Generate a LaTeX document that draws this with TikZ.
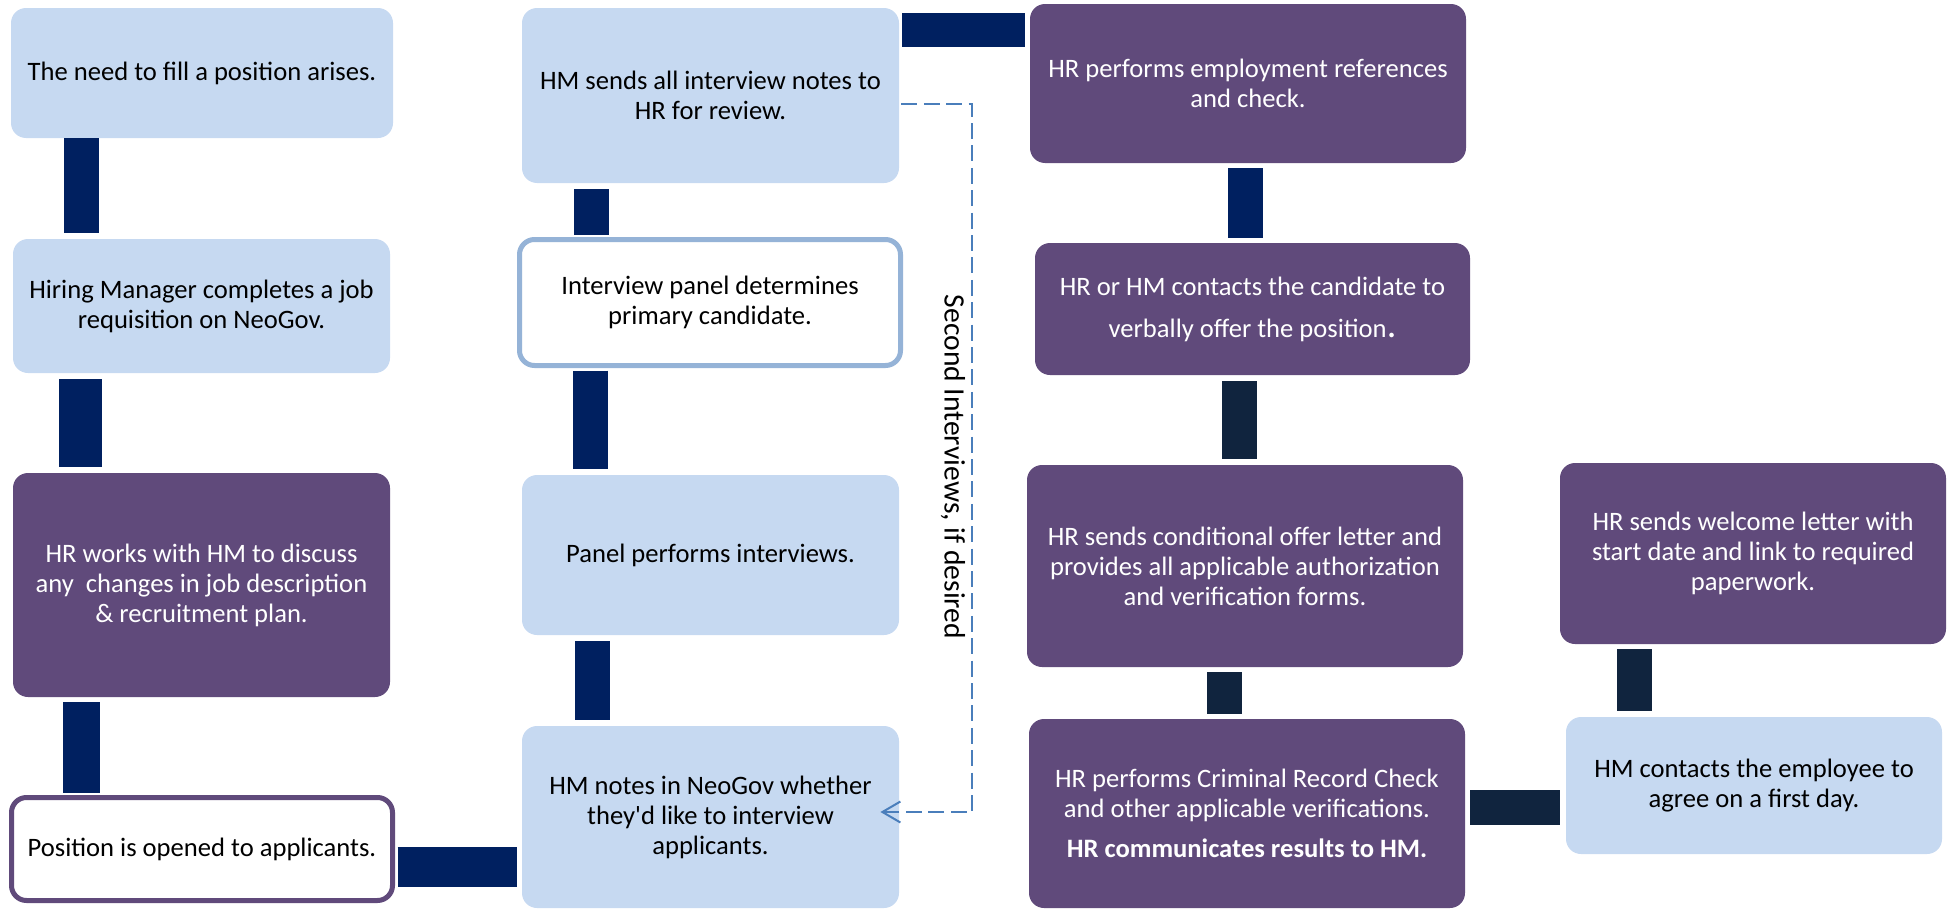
\documentclass[tikz,border=0pt]{standalone}
\usepackage{fontspec}
\setmainfont{Carlito}
\usetikzlibrary{arrows.meta}
\definecolor{boxblue}{HTML}{C6D9F1}
\definecolor{boxpurple}{HTML}{604A7B}
\definecolor{navy}{HTML}{002060}
\definecolor{darknavy}{HTML}{10243E}
\definecolor{panelblue}{HTML}{95B3D7}
\definecolor{dashblue}{HTML}{4A7EBB}
\begin{document}
\begin{tikzpicture}[x=0.5pt,y=-0.5pt,
  box/.style={rounded corners=7.5pt, align=center, inner sep=0pt, font=\fontsize{13.3}{15}\selectfont},
  lbox/.style={box, fill=boxblue, text=black},
  pbox/.style={box, fill=boxpurple, text=white},
  bar/.style={draw=navy, line width=17.5pt},
  bartwo/.style={draw=darknavy, line width=17.5pt},
  dashline/.style={draw=dashblue, line width=1pt, dash pattern=on 8pt off 3.2pt},
]
\useasboundingbox (0,0) rectangle (1954,910);

% column 1
\node[lbox, minimum width=191pt, minimum height=65pt] (b1) at (202,73) {The need to fill a position arises.};
\node[lbox, minimum width=188.5pt, minimum height=67pt] (b2) at (201.5,306) {Hiring Manager completes a job\\requisition on NeoGov.};
\node[pbox, minimum width=188.5pt, minimum height=112pt] (b3) at (201.5,585) {HR works with HM to discuss\\any\ \ changes in job description\\\& recruitment plan.};
\node[box, fill=white, draw=boxpurple, line width=2.5pt, minimum width=190.5pt, minimum height=51.5pt] (b4) at (202,849) {Position is opened to applicants.};

% column 2
\node[lbox, minimum width=188.5pt, minimum height=87.5pt] (c2a) at (710.5,95.5) {HM sends all interview notes to\\HR for review.};
\node[box, fill=white, draw=panelblue, line width=2.5pt, minimum width=190.5pt, minimum height=63pt] (c2b) at (710,302.5) {Interview panel determines\\primary candidate.};
\node[lbox, minimum width=188.5pt, minimum height=80pt] (c2c) at (710.5,555) {Panel performs interviews.};
\node[lbox, minimum width=188.5pt, minimum height=91pt] (c2d) at (710.5,817) {HM notes in NeoGov whether\\they\textquotesingle d like to interview\\applicants.};

% column 3
\node[pbox, minimum width=218pt, minimum height=79.5pt] (c3a) at (1248,83.5) {HR performs employment references\\and check.};
\node[pbox, minimum width=217.5pt, minimum height=66pt, font=\fontsize{13.3}{21}\selectfont] (c3b) at (1252.5,309) {HR or HM contacts the candidate to\\verbally offer the position{\fontsize{19}{21}\selectfont.}};
\node[pbox, minimum width=218pt, minimum height=101pt] (c3c) at (1245,566) {HR sends conditional offer letter and\\provides all applicable authorization\\and verification forms.};
\node[pbox, minimum width=218pt, minimum height=94.5pt] (c3d) at (1247,813.5) {HR performs Criminal Record Check\\and other applicable verifications.\\[5pt]\textbf{HR communicates results to HM.}};

% column 4
\node[pbox, minimum width=193pt, minimum height=90.5pt] (c4a) at (1753,553.5) {HR sends welcome letter with\\start date and link to required\\paperwork.};
\node[lbox, minimum width=188pt, minimum height=68.5pt] (c4b) at (1754,785.5) {HM contacts the employee to\\agree on a first day.};

% label
\node[rotate=-90, font=\fontsize{14.8}{16}\selectfont, inner sep=0pt] (lbl) at (953,467) {Second Interviews, if desired};

% bars
\draw[bar, shorten >=3pt] (b1.south -| 81.5,0) -- (b2.north -| 81.5,0);
\draw[bar, line width=21.5pt, shorten <=3pt, shorten >=3pt] (b2.south -| 80.5,0) -- (b3.north -| 80.5,0);
\draw[bar, line width=18.5pt, shorten <=2.5pt, shorten >=1.25pt] (b3.south -| 81,0) -- (b4.north -| 81,0);
\draw[bar, line width=20pt, shorten <=1.25pt, shorten >=2.5pt] (b4.east |- 0,867) -- (c2d.west |- 0,867);
\draw[bar, shorten <=3pt, shorten >=1.25pt] (c2a.south -| 591.5,0) -- (c2b.north -| 591.5,0);
\draw[bar, shorten <=1.25pt, shorten >=3pt] (c2b.south -| 590,0) -- (c2c.north -| 590,0);
\draw[bar, shorten <=3pt, shorten >=3pt] (c2c.south -| 592.5,0) -- (c2d.north -| 592.5,0);
\draw[bar, line width=17pt, shorten <=1.5pt, shorten >=2.5pt] (c2a.east |- 0,30) -- (c3a.west |- 0,30);
\draw[bar, shorten <=2.5pt, shorten >=2.5pt] (c3a.south -| 1245.5,0) -- (c3b.north -| 1245.5,0);
\draw[bartwo, shorten <=3pt, shorten >=3pt] (c3b.south -| 1239.5,0) -- (c3c.north -| 1239.5,0);
\draw[bartwo, shorten <=2.5pt, shorten >=2.5pt] (c3c.south -| 1224.5,0) -- (c3d.north -| 1224.5,0);
\draw[bartwo, shorten <=2.5pt, shorten >=3pt] (c3d.east |- 0,807.5) -- (c4b.west |- 0,807.5);
\draw[bartwo, shorten <=2.5pt, shorten >=3pt] (c4a.south -| 1634.5,0) -- (c4b.north -| 1634.5,0);

% dashed loop
\draw[dashline, -{Straight Barb[length=9pt,width=10.5pt]}, shorten <=1pt, shorten >=-9.5pt] (c2a.east |- 0,104) -- (972,104) -- (972,812) -- (c2d.east |- 0,812);
\end{tikzpicture}
\end{document}
